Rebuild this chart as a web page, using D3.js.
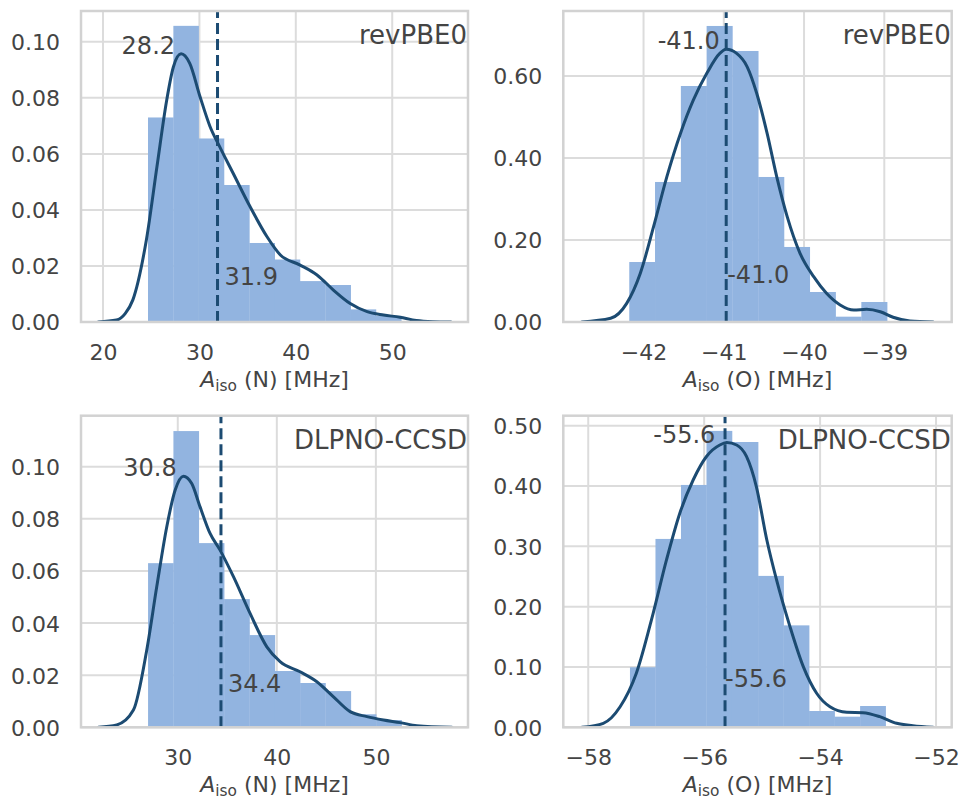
<!DOCTYPE html>
<html><head><meta charset="utf-8">
<script src="https://cdn.jsdelivr.net/npm/d3@7"></script>
<style>
body{margin:0;background:#fff;}
text{font-family:"DejaVu Sans",sans-serif;fill:#444;}
</style>
</head><body>
<svg id="chart" width="960" height="799"></svg>
<script>
// ---------- data ----------
const methodNames = ["revPBE0", "revPBE0", "DLPNO-CCSD", "DLPNO-CCSD"];
const nucleusNames = ["N", "O", "N", "O"];

const binEdgesRevN = [24.67, 27.30, 29.92, 32.55, 35.18, 37.81, 40.43, 43.06, 45.69, 48.31, 50.94];
const densityRevN  = [0.0730, 0.1057, 0.0655, 0.0489, 0.0282, 0.0223, 0.0146, 0.0132, 0.0045, 0.0022];
const kdeXRevN = [19.5, 21.4, 22.3, 23.1, 24.5, 25.6, 26.6, 27.3, 28.1, 29.0, 30.06, 31.1, 32.1, 33.5, 35.25, 37.0, 38.4, 40.4, 42.2, 43.9, 45.6, 47.4, 49.1, 50.8, 52.5, 54.2, 56.1];
const kdeYRevN = [0, 0.0007, 0.003, 0.0079, 0.0293, 0.0555, 0.079, 0.091, 0.0957, 0.0923, 0.0805, 0.0698, 0.0626, 0.0531, 0.0412, 0.0305, 0.0239, 0.0204, 0.0168, 0.0114, 0.0067, 0.0037, 0.0025, 0.0017, 0.0005, 0.0001, 0];

const binEdgesRevO = [-42.178, -41.857, -41.535, -41.214, -40.893, -40.571, -40.250, -39.929, -39.607, -39.286, -38.965];
const densityRevO  = [0.1463, 0.3415, 0.5756, 0.722, 0.661, 0.3537, 0.183, 0.0732, 0.013, 0.0488];
const kdeXRevO = [-42.77, -42.41, -42.21, -42.04, -41.875, -41.71, -41.54, -41.38, -41.21, -41.05, -40.97, -40.84, -40.71, -40.59, -40.46, -40.34, -40.21, -40.05, -39.88, -39.72, -39.55, -39.38, -39.22, -39.05, -38.89, -38.68, -38.39];
const kdeYRevO = [0, 0.009, 0.0455, 0.119, 0.2325, 0.354, 0.46, 0.541, 0.607, 0.655, 0.665, 0.655, 0.623, 0.558, 0.46, 0.354, 0.257, 0.1675, 0.1105, 0.07, 0.0415, 0.029, 0.031, 0.025, 0.0115, 0.0024, 0];

const binEdgesDlpN = [27.00, 29.56, 32.12, 34.68, 37.24, 39.80, 42.35, 44.91, 47.47, 50.03, 52.59];
const densityDlpN  = [0.063, 0.1137, 0.0707, 0.0492, 0.0354, 0.0216, 0.017, 0.0139, 0.005, 0.0028];
const kdeXDlpN = [21.98, 23.84, 25.52, 26.87, 27.88, 28.89, 29.73, 30.57, 31.41, 32.25, 33.26, 34.27, 35.62, 37.3, 38.99, 40.33, 42.35, 44.04, 45.72, 47.4, 49.1, 50.77, 52.46, 54.14, 57.68];
const kdeYDlpN = [0, 0.0009, 0.0066, 0.0297, 0.054, 0.077, 0.091, 0.0964, 0.0936, 0.0846, 0.0744, 0.068, 0.0578, 0.0437, 0.0309, 0.0252, 0.0213, 0.0175, 0.0117, 0.006, 0.0041, 0.0028, 0.0018, 0.0006, 0];

const binEdgesDlpO = [-57.28, -56.84, -56.40, -55.96, -55.52, -55.07, -54.63, -54.19, -53.75, -53.31, -52.87];
const densityDlpO  = [0.0995, 0.3123, 0.4018, 0.4914, 0.473, 0.251, 0.169, 0.027, 0.0176, 0.0353];
const kdeXDlpO = [-58.11, -57.74, -57.45, -57.17, -56.88, -56.65, -56.42, -56.19, -55.96, -55.73, -55.61, -55.44, -55.27, -55.10, -54.92, -54.75, -54.52, -54.29, -54.06, -53.83, -53.54, -53.26, -52.97, -52.68, -52.40, -52.05];
const kdeYDlpO = [0, 0.0066, 0.034, 0.0896, 0.189, 0.2775, 0.355, 0.41, 0.449, 0.468, 0.472, 0.468, 0.449, 0.399, 0.311, 0.244, 0.167, 0.1005, 0.0564, 0.034, 0.0249, 0.0242, 0.0176, 0.0066, 0.0027, 0];

const modeValues = [28.2, -41.0, 30.8, -55.6];
const meanValues = [31.88, -40.97, 34.36, -55.64];

const xTicks = [[20, 30, 40, 50], [-42, -41, -40, -39], [30, 40, 50], [-58, -56, -54, -52]];
const yTicks = [[0, 0.02, 0.04, 0.06, 0.08, 0.10], [0, 0.2, 0.4, 0.6], [0, 0.02, 0.04, 0.06, 0.08, 0.10], [0, 0.1, 0.2, 0.3, 0.4, 0.5]];

// ---------- layout / style ----------
const panels = [
  {edges: binEdgesRevN, dens: densityRevN, kx: kdeXRevN, ky: kdeYRevN, box: [81, 11, 468, 322], xd: [17.72, 57.86], yd: [0, 0.111], modeDx: -7, meanDx: 7, meanDy: 37},
  {edges: binEdgesRevO, dens: densityRevO, kx: kdeXRevO, ky: kdeYRevO, box: [563.3, 11, 951.7, 322], xd: [-43.0, -38.16], yd: [0, 0.7585], modeDx: -4, meanDx: 1, meanDy: 39},
  {edges: binEdgesDlpN, dens: densityDlpN, kx: kdeXDlpN, ky: kdeYDlpN, box: [81, 415.7, 468, 727.3], xd: [20.23, 59.3], yd: [0, 0.1196], modeDx: -9, meanDx: 7, meanDy: 35.6},
  {edges: binEdgesDlpO, dens: densityDlpO, kx: kdeXDlpO, ky: kdeYDlpO, box: [563.3, 415.7, 951.7, 727.3], xd: [-58.43, -51.73], yd: [0, 0.5166], modeDx: -12, meanDx: 0, meanDy: 40.3}
];

const BAR = "#92b4e0", LINE = "#1c4b72", GRID = "#dcdcdc", SPINE = "#d2d2d2";
const TICK_FS = 22, LABEL_FS = 22, ANN_FS = 24, NAME_FS = 26;

const svg = d3.select("#chart");
const fmtMinus = v => (v < 0 ? "\u2212" + Math.abs(v) : String(v));

panels.forEach((p, i) => {
  const [x0, y0, x1, y1] = p.box;
  const x = d3.scaleLinear().domain(p.xd).range([x0, x1]);
  const y = d3.scaleLinear().domain(p.yd).range([y1, y0]);
  const g = svg.append("g");
  const clipId = "clip" + i;
  svg.append("clipPath").attr("id", clipId).append("rect")
    .attr("x", x0).attr("y", y0).attr("width", x1 - x0).attr("height", y1 - y0);

  // grid
  g.selectAll(".gx").data(xTicks[i]).join("line")
    .attr("x1", d => x(d)).attr("x2", d => x(d)).attr("y1", y0).attr("y2", y1)
    .attr("stroke", GRID).attr("stroke-width", 2);
  g.selectAll(".gy").data(yTicks[i]).join("line")
    .attr("y1", d => y(d)).attr("y2", d => y(d)).attr("x1", x0).attr("x2", x1)
    .attr("stroke", GRID).attr("stroke-width", 2);

  const inner = g.append("g").attr("clip-path", `url(#${clipId})`);
  // bars
  inner.selectAll("rect.bar").data(p.dens).join("rect").attr("class", "bar")
    .attr("x", (d, k) => x(p.edges[k]))
    .attr("width", (d, k) => x(p.edges[k + 1]) - x(p.edges[k]) + 0.3)
    .attr("y", d => y(d)).attr("height", d => y(0) - y(d))
    .attr("fill", BAR);

  // kde
  const pts = p.kx.map((v, k) => [v, p.ky[k]]);
  inner.append("path").datum(pts)
    .attr("d", d3.line().x(d => x(d[0])).y(d => y(d[1])).curve(d3.curveMonotoneX))
    .attr("fill", "none").attr("stroke", LINE).attr("stroke-width", 3)
    .attr("stroke-linejoin", "round").attr("stroke-linecap", "round");

  // mean line
  inner.append("line")
    .attr("x1", x(meanValues[i])).attr("x2", x(meanValues[i]))
    .attr("y1", y1).attr("y2", y0)
    .attr("stroke", LINE).attr("stroke-width", 3).attr("stroke-dasharray", "11,5");

  // spines
  g.append("rect").attr("x", x0).attr("y", y0).attr("width", x1 - x0).attr("height", y1 - y0)
    .attr("fill", "none").attr("stroke", SPINE).attr("stroke-width", 2.5);

  // axes (tick labels via d3 axes, no tick lines)
  const xAxis = d3.axisBottom(x).tickValues(xTicks[i]).tickFormat(fmtMinus).tickSize(0).tickPadding(0);
  const xa = g.append("g").attr("transform", `translate(0,${y1})`).call(xAxis);
  xa.select(".domain").remove();
  xa.selectAll("text").attr("dy", null).attr("y", 38)
    .style("font-size", TICK_FS + "px").style("font-family", "DejaVu Sans").attr("fill", "#444");

  const yAxis = d3.axisLeft(y).tickValues(yTicks[i]).tickFormat(d3.format(".2f")).tickSize(0).tickPadding(0);
  const ya = g.append("g").attr("transform", `translate(${x0},0)`).call(yAxis);
  ya.select(".domain").remove();
  ya.selectAll("text").attr("x", -21).attr("dy", "0.36em")
    .style("font-size", TICK_FS + "px").style("font-family", "DejaVu Sans").attr("fill", "#444");

  // axis label
  const lab = g.append("text").attr("x", (x0 + x1) / 2).attr("y", y1 + 65)
    .attr("text-anchor", "middle").style("font-size", LABEL_FS + "px");
  lab.append("tspan").text("A").style("font-style", "italic");
  lab.append("tspan").text("iso").style("font-size", (LABEL_FS * 0.7) + "px").attr("dy", 4);
  lab.append("tspan").text(` (${nucleusNames[i]}) [MHz]`).attr("dy", -4);

  // method name
  g.append("text").attr("x", x1 - 1).attr("y", y0 + 33).attr("text-anchor", "end")
    .style("font-size", NAME_FS + "px").text(methodNames[i]);

  // mode label
  const peak = d3.max(p.ky);
  g.append("text").attr("x", x(modeValues[i]) + p.modeDx).attr("y", y(peak))
    .attr("text-anchor", "end").style("font-size", ANN_FS + "px").text(modeValues[i].toFixed(1));

  // mean label
  g.append("text").attr("x", x(meanValues[i]) + p.meanDx).attr("y", y1 - p.meanDy)
    .attr("text-anchor", "start").style("font-size", ANN_FS + "px").text(meanValues[i].toFixed(1));
});
</script>
</body></html>
